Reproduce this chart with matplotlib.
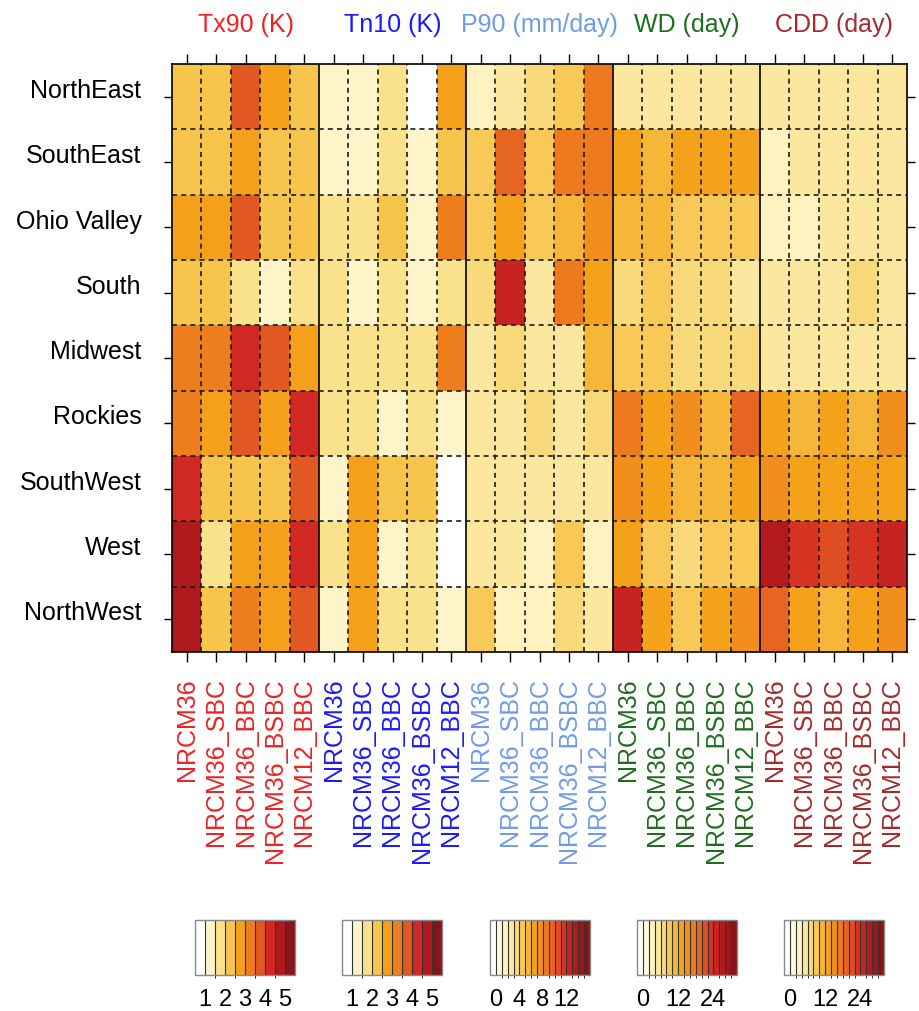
import numpy as np
import matplotlib
matplotlib.use("Agg")
import matplotlib.pyplot as plt
import matplotlib.transforms as mtransforms
from matplotlib.colors import LinearSegmentedColormap, ListedColormap, BoundaryNorm
from matplotlib.cm import ScalarMappable

plt.rcParams['font.family'] = ['Liberation Sans', 'DejaVu Sans']

regions = ["NorthEast", "SouthEast", "Ohio Valley", "South", "Midwest",
           "Rockies", "SouthWest", "West", "NorthWest"]
runs = ["NRCM36", "NRCM36_SBC", "NRCM36_BBC", "NRCM36_BSBC", "NRCM12_BBC"]
titles = ["Tx90 (K)", "Tn10 (K)", "P90 (mm/day)", "WD (day)", "CDD (day)"]
title_colors = ["#ee2222", "#1a1aff", "#6f9be8", "#1e6e1e", "#a52a2a"]

# rows = regions, cols = runs
tx90 = [[2.3, 2.2, 3.8, 2.7, 2.3],
        [2.2, 2.3, 2.8, 2.3, 2.2],
        [2.7, 2.6, 3.7, 2.3, 2.2],
        [2.2, 2.3, 1.8, 1.3, 1.7],
        [3.2, 3.3, 4.3, 3.7, 2.8],
        [3.3, 2.7, 3.8, 2.8, 4.2],
        [4.2, 2.3, 2.2, 2.3, 3.7],
        [4.8, 1.8, 2.8, 2.7, 4.3],
        [4.7, 2.2, 3.2, 2.8, 3.8]]

tn10 = [[1.2, 1.3, 1.7, 0.8, 2.7],
        [1.3, 1.2, 1.8, 1.4, 2.3],
        [1.8, 1.7, 2.2, 1.3, 3.2],
        [1.6, 1.4, 1.8, 1.3, 1.7],
        [1.8, 1.7, 1.8, 1.9, 3.1],
        [1.7, 1.6, 1.3, 1.6, 1.2],
        [1.2, 2.8, 2.3, 2.4, 0.7],
        [1.7, 2.7, 1.3, 1.7, 0.6],
        [1.3, 2.6, 1.8, 1.6, 1.2]]

p90 = [[1.6, 2.4, 3.5, 4.3, 8.6],
       [4.4, 9.3, 4.6, 8.5, 8.2],
       [4.3, 6.4, 4.5, 5.6, 7.4],
       [3.4, 12.6, 2.7, 8.4, 6.5],
       [2.6, 3.3, 2.5, 2.7, 5.4],
       [2.5, 2.4, 3.3, 2.6, 3.2],
       [2.6, 2.5, 2.4, 2.7, 2.6],
       [2.4, 2.3, 1.7, 4.4, 1.8],
       [4.2, 1.6, 1.8, 3.4, 2.5]]

wd = [[4.8, 4.6, 5.4, 5.5, 4.7],
      [12.8, 11.1, 13.2, 12.5, 13.4],
      [11.2, 10.8, 9.3, 8.9, 9.6],
      [7.1, 8.6, 6.8, 7.4, 5.6],
      [8.7, 8.5, 7.2, 7.0, 7.6],
      [16.6, 13.1, 15.2, 11.4, 18.5],
      [15.1, 12.9, 11.3, 11.6, 12.7],
      [12.6, 9.1, 7.5, 8.8, 9.4],
      [24.7, 13.3, 9.2, 12.4, 14.6]]

cdd = [[4.6, 4.9, 5.1, 4.8, 5.2],
       [3.7, 4.8, 5.3, 5.0, 5.4],
       [3.5, 2.9, 4.6, 4.9, 5.3],
       [5.2, 5.0, 5.3, 6.7, 5.1],
       [5.1, 5.4, 5.2, 5.3, 5.5],
       [12.6, 11.3, 12.9, 11.5, 14.4],
       [14.3, 13.1, 12.8, 12.6, 13.2],
       [26.9, 22.8, 21.2, 22.5, 24.6],
       [18.7, 13.3, 11.6, 12.8, 14.2]]

levels_k = [1, 1.5, 2, 2.5, 3, 3.5, 4, 4.5, 5]
levels_p = list(range(0, 16))
levels_d = list(range(0, 31, 2))
cb_ticks = [[1, 2, 3, 4, 5], [1, 2, 3, 4, 5], [0, 4, 8, 12], [0, 12, 24], [0, 12, 24]]

panels = [tx90, tn10, p90, wd, cdd]
panel_levels = [levels_k, levels_k, levels_p, levels_d, levels_d]

# white-yellow-orange-red ramp
ramp = LinearSegmentedColormap.from_list("wyor", [
    "#ffffff", "#fef4c8", "#fae28c", "#f7c44c", "#f5a019",
    "#ee7d1e", "#e25822", "#d22823", "#af191e", "#871419"])

W, H = 919, 1011
fig = plt.figure(figsize=(W / 100, H / 100), dpi=100)
ax = fig.add_axes([172 / W, 1 - 652 / H, 735 / W, 588 / H])

cmaps, norms = [], []
for g, (vals, lev) in enumerate(zip(panels, panel_levels)):
    n = len(lev) + 1
    cm = ListedColormap(ramp(np.linspace(0, 1, n)))
    nm = BoundaryNorm(lev, ncolors=n, extend="both")
    cmaps.append(cm)
    norms.append(nm)
    ax.pcolormesh(np.arange(6) + 5 * g, np.arange(10), np.array(vals), cmap=cm, norm=nm)

ax.set_xlim(0, 25)
ax.set_ylim(9, 0)

for xi in range(1, 25):
    if xi % 5:
        ax.axvline(xi, color="#1a1a1a", lw=1.2, ls=(0, (3, 2.5)))
    else:
        ax.axvline(xi, color="black", lw=1.2)
for yi in range(1, 9):
    ax.axhline(yi, color="#1a1a1a", lw=1.2, ls=(0, (3, 2.5)))

for sp in ax.spines.values():
    sp.set_linewidth(1.2)

ax.set_xticks(np.arange(25) + 0.5)
ax.set_xticklabels(runs * 5, rotation=90)
ax.tick_params(axis="x", top=True, bottom=True, direction="out", length=7,
               width=1, labelsize=18, pad=12)
for i, lab in enumerate(ax.get_xticklabels()):
    lab.set_color(title_colors[i // 5])

ax.set_yticks(np.arange(9) + 0.5)
ax.set_yticklabels(regions)
ax.tick_params(axis="y", left=True, right=True, direction="out", length=6,
               width=1, labelsize=18, pad=16)
# region names sit a little above their tick marks
lift = mtransforms.ScaledTranslation(0, 6 / 72, fig.dpi_scale_trans)
for lab in ax.get_yticklabels():
    lab.set_transform(lab.get_transform() + lift)

trans = mtransforms.blended_transform_factory(ax.transData, fig.transFigure)
for g, (t, c) in enumerate(zip(titles, title_colors)):
    ax.text(5 * g + 2.5, 1 - 25 / H, t, transform=trans, ha="center", va="center",
            fontsize=18, color=c)

# small label bars
cb_x = [195, 342, 490, 637, 784]
for g in range(5):
    cax = fig.add_axes([cb_x[g] / W, 1 - 975 / H, 100 / W, 55 / H])
    sm = ScalarMappable(norm=norms[g], cmap=cmaps[g])
    cb = fig.colorbar(sm, cax=cax, orientation="horizontal", extend="both",
                      extendrect=True, extendfrac="auto", drawedges=True,
                      ticks=cb_ticks[g])
    cb.outline.set_edgecolor("#888888")
    cb.outline.set_linewidth(1)
    cb.dividers.set_color("#333333")
    cb.dividers.set_linewidth(0.8)
    cb.ax.tick_params(length=0, labelsize=17, pad=10)

fig.savefig("out.png", dpi=100)
